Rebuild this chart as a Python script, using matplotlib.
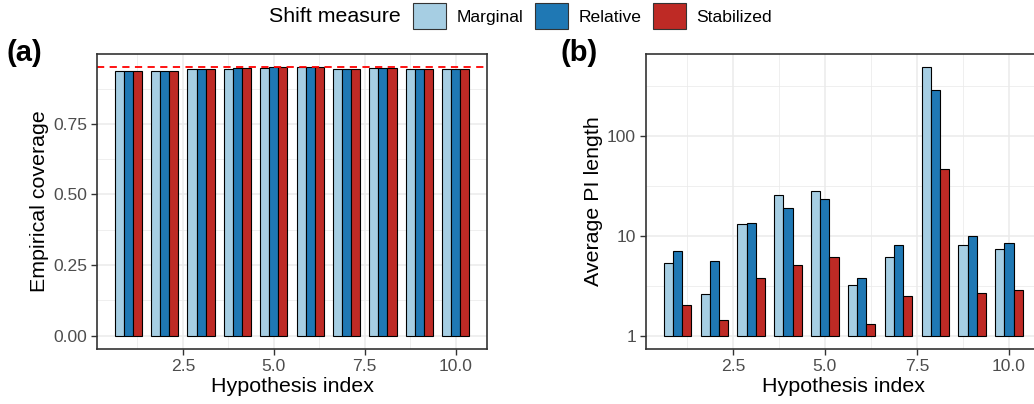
import numpy as np
import matplotlib.pyplot as plt
from matplotlib.patches import Patch

plt.rcParams['font.family'] = ['Liberation Sans', 'DejaVu Sans']

# Datos
hipotesis = [1, 2, 3, 4, 5, 6, 7, 8, 9, 10]
medidas = ['Marginal', 'Relative', 'Stabilized']
colores = ['#A6CEE3', '#1F78B4', '#BE2A25']

cobertura_marginal = [0.938, 0.939, 0.946, 0.946, 0.949, 0.950, 0.946, 0.947, 0.944, 0.944]
cobertura_relative = [0.938, 0.939, 0.946, 0.947, 0.950, 0.950, 0.946, 0.947, 0.944, 0.944]
cobertura_stabilized = [0.938, 0.939, 0.946, 0.947, 0.950, 0.950, 0.946, 0.947, 0.944, 0.945]
nivel_nominal = 0.95

longitud_marginal = [5.33, 2.61, 13.2, 25.5, 28.0, 3.24, 6.12, 487, 8.07, 7.3]
longitud_relative = [7.08, 5.58, 13.3, 19.1, 23.1, 3.74, 8.0, 288, 9.93, 8.45]
longitud_stabilized = [2.04, 1.44, 3.78, 5.05, 6.07, 1.30, 2.49, 46.4, 2.69, 2.88]

cobertura = [cobertura_marginal, cobertura_relative, cobertura_stabilized]
longitud = [longitud_marginal, longitud_relative, longitud_stabilized]

ancho = 0.25
desplazamientos = [-ancho, 0, ancho]
gris_texto = '#4D4D4D'
gris_borde = '#333333'
tam_ticks = 12.6
tam_titulo = 15.4

fig = plt.figure(figsize=(10.34, 4.04), dpi=100)
ax_a = fig.add_axes([0.0938, 0.1361, 0.3772, 0.7302])
ax_b = fig.add_axes([0.6246, 0.1361, 0.3819, 0.7302])


def estilo_ggplot(ax):
    ax.set_axisbelow(True)
    for s in ax.spines.values():
        s.set_color(gris_borde)
        s.set_linewidth(1.2)
    ax.grid(True, which='major', color='#EBEBEB', linewidth=1.1)
    ax.grid(True, which='minor', color='#EBEBEB', linewidth=0.55)
    ax.tick_params(which='major', length=4, width=1.0, color=gris_borde,
                   labelsize=tam_ticks, labelcolor=gris_texto, pad=3)
    ax.tick_params(which='minor', length=0)
    ax.set_xlim(0.1375, 10.8625)
    ax.set_xticks([2.5, 5.0, 7.5, 10.0])
    ax.set_xticklabels(['2.5', '5.0', '7.5', '10.0'])
    ax.set_xticks([1.25, 3.75, 6.25, 8.75], minor=True)
    ax.set_xlabel('Hypothesis index', fontsize=tam_titulo, labelpad=2)


x = np.array(hipotesis)

# Panel (a): cobertura empírica
for valores, color, d in zip(cobertura, colores, desplazamientos):
    ax_a.bar(x + d, valores, width=ancho, color=color, edgecolor='black', linewidth=0.8)
ax_a.axhline(nivel_nominal, color='#FF0000', linestyle=(0, (4, 3)), linewidth=1.3)
estilo_ggplot(ax_a)
ax_a.set_ylim(-0.0475, 0.9975)
ax_a.set_yticks([0.0, 0.25, 0.5, 0.75])
ax_a.set_yticklabels(['0.00', '0.25', '0.50', '0.75'])
ax_a.set_yticks([0.125, 0.375, 0.625, 0.875], minor=True)
ax_a.set_ylabel('Empirical coverage', fontsize=tam_titulo, labelpad=3)

# Panel (b): longitud promedio del intervalo (escala log)
for valores, color, d in zip(longitud, colores, desplazamientos):
    v = np.array(valores)
    ax_b.bar(x + d, v - 1, bottom=1, width=ancho, color=color, edgecolor='black', linewidth=0.8)
ax_b.set_yscale('log')
estilo_ggplot(ax_b)
ax_b.set_ylim(10 ** -0.134, 10 ** 2.817)
ax_b.set_yticks([1, 10, 100])
ax_b.set_yticklabels(['1', '10', '100'])
ax_b.set_yticks([10 ** 0.5, 10 ** 1.5, 10 ** 2.5], minor=True)
ax_b.yaxis.set_minor_formatter(plt.NullFormatter())
ax_b.set_ylabel('Average PI length', fontsize=tam_titulo, labelpad=3)

fig.text(7 / 1034, 1 - 53 / 404, '(a)', fontsize=21, fontweight='bold', va='center', ha='left')
fig.text(561 / 1034, 1 - 53 / 404, '(b)', fontsize=21, fontweight='bold', va='center', ha='left')

# Leyenda arriba
fig.text(401 / 1034, 1 - 16 / 404, 'Shift measure', fontsize=tam_titulo, ha='right', va='center')
manijas = [Patch(facecolor=c, edgecolor='#333333', linewidth=0.8) for c in colores]
fig.legend(manijas, medidas, loc='center left', bbox_to_anchor=(413 / 1034, 1 - 16 / 404),
           ncol=3, frameon=False, fontsize=tam_ticks, handlelength=1.89, handleheight=1.85,
           handletextpad=0.6, columnspacing=0.65, borderpad=0, borderaxespad=0)

fig.savefig('out.png', dpi=100)
